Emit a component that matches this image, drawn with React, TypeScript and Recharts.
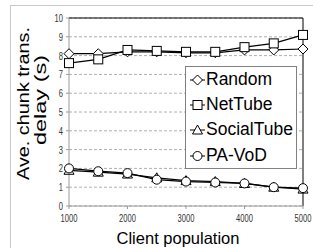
import {
  CartesianGrid,
  Line,
  LineChart,
  ReferenceLine,
  XAxis,
  YAxis,
} from "recharts";

const clientPopulation = [1000, 1500, 2000, 2500, 3000, 3500, 4000, 4500, 5000];
const randomDelay = [8.1, 8.1, 8.2, 8.2, 8.15, 8.15, 8.3, 8.3, 8.35];
const netTubeDelay = [7.6, 7.8, 8.3, 8.25, 8.2, 8.2, 8.45, 8.65, 9.1];
const socialTubeDelay = [1.9, 1.8, 1.7, 1.5, 1.35, 1.3, 1.2, 1.0, 0.9];
const paVodDelay = [2.0, 1.85, 1.75, 1.4, 1.3, 1.25, 1.2, 1.0, 0.95];
const yTicks = [0, 1, 2, 3, 4, 5, 6, 7, 8, 9, 10];
const xTicks = [1000, 2000, 3000, 4000, 5000];

const FONT = "Arial, 'Liberation Sans', sans-serif";
const LINE_COLOR = "#000000";
const AXIS_COLOR = "#9a9a9a";
const GRID_COLOR = "#b0b0b0";
const TICK_COLOR = "#333333";

type MarkerKind = "diamond" | "square" | "triangle" | "circle";

const seriesList: { key: string; name: string; marker: MarkerKind }[] = [
  { key: "random", name: "Random", marker: "diamond" },
  { key: "netTube", name: "NetTube", marker: "square" },
  { key: "socialTube", name: "SocialTube", marker: "triangle" },
  { key: "paVod", name: "PA-VoD", marker: "circle" },
];

const chartData = clientPopulation.map((population, index) => ({
  population,
  random: randomDelay[index],
  netTube: netTubeDelay[index],
  socialTube: socialTubeDelay[index],
  paVod: paVodDelay[index],
}));

function Marker({ kind, cx, cy }: { kind: MarkerKind; cx: number; cy: number }) {
  const common = { fill: "#ffffff", stroke: LINE_COLOR, strokeWidth: 1 };
  if (kind === "diamond") {
    return (
      <polygon
        {...common}
        points={`${cx},${cy - 5} ${cx + 5},${cy} ${cx},${cy + 5} ${cx - 5},${cy}`}
      />
    );
  }
  if (kind === "square") {
    return <rect {...common} x={cx - 4.5} y={cy - 4.5} width={9} height={9} />;
  }
  if (kind === "triangle") {
    return (
      <polygon
        {...common}
        points={`${cx},${cy - 5} ${cx + 5},${cy + 4} ${cx - 5},${cy + 4}`}
      />
    );
  }
  return <circle {...common} cx={cx} cy={cy} r={4.5} />;
}

function renderDot(kind: MarkerKind) {
  return (props: any) => {
    const cx = Number(props?.cx ?? 0);
    const cy = Number(props?.cy ?? 0);
    return <Marker key={`${kind}-${props?.index}`} kind={kind} cx={cx} cy={cy} />;
  };
}

// narrow tick text, like the squeezed digits of the original figure
function NarrowTick(props: any) {
  const label = String(props?.payload?.value ?? "");
  const isX = props?.orientation === "bottom";
  const x = Number(props?.x ?? 0);
  const y = Number(props?.y ?? 0);
  return (
    <text
      x={isX ? x : x - 1}
      y={isX ? y + 3 : y}
      dy={isX ? "0.71em" : "0.355em"}
      textAnchor={isX ? "middle" : "end"}
      fontFamily={FONT}
      fontSize={11}
      fill={TICK_COLOR}
      textLength={label.length * 4.2}
      lengthAdjust="spacingAndGlyphs"
    >
      {label}
    </text>
  );
}

function LegendBox() {
  return (
    <div
      style={{
        position: "absolute",
        left: 185,
        top: 66,
        width: 112,
        height: 103,
        border: "1px solid #808080",
        background: "#ffffff",
        boxSizing: "border-box",
      }}
    >
      {seriesList.map((series) => (
        <div
          key={series.key}
          style={{ display: "flex", alignItems: "center", height: 25.3 }}
        >
          <svg width={17} height={16} style={{ marginLeft: 3, flexShrink: 0 }}>
            <line x1={1} y1={8} x2={16} y2={8} stroke={LINE_COLOR} strokeWidth={1} />
            <Marker kind={series.marker} cx={8.5} cy={8} />
          </svg>
          <span style={{ fontFamily: FONT, fontSize: 17.5, color: "#000", lineHeight: 1 }}>
            {series.name}
          </span>
        </div>
      ))}
    </div>
  );
}

function YAxisTitle() {
  return (
    <g>
      <text
        x={23}
        y={103.5}
        transform="rotate(-90, 23, 103.5)"
        textAnchor="middle"
        dominantBaseline="central"
        fontFamily={FONT}
        fontSize={17}
        fill="#000"
        textLength={153}
        lengthAdjust="spacingAndGlyphs"
      >
        Ave. chunk trans.
      </text>
      <text
        x={40}
        y={100}
        transform="rotate(-90, 40, 100)"
        textAnchor="middle"
        dominantBaseline="central"
        fontFamily={FONT}
        fontSize={17}
        fill="#000"
        textLength={90}
        lengthAdjust="spacingAndGlyphs"
      >
        delay (s)
      </text>
    </g>
  );
}

function XAxisTitle() {
  return (
    <text
      x={178}
      y={244}
      textAnchor="middle"
      fontFamily={FONT}
      fontSize={16.5}
      fill="#000"
    >
      Client population
    </text>
  );
}

export default function App() {
  return (
    <div
      style={{
        position: "absolute",
        left: 0,
        top: 0,
        width: 313,
        height: 248,
        background: "#ffffff",
        overflow: "hidden",
      }}
    >
      <div
        style={{
          position: "absolute",
          left: 10,
          top: 5,
          width: 310,
          height: 260,
          border: "1px solid #c8c8c8",
          boxSizing: "border-box",
        }}
      />
      <LineChart
        width={313}
        height={248}
        data={chartData}
        margin={{ top: 18, right: 10, left: 0, bottom: 0 }}
        style={{ position: "absolute", left: 0, top: 0 }}
      >
        <CartesianGrid
          horizontal
          vertical={false}
          stroke={GRID_COLOR}
          strokeDasharray="3 2"
        />
        <XAxis
          dataKey="population"
          type="number"
          domain={[1000, 5000]}
          ticks={xTicks}
          height={42}
          interval={0}
          stroke={AXIS_COLOR}
          tickSize={3}
          tick={<NarrowTick />}
          label={<XAxisTitle />}
        />
        <YAxis
          domain={[0, 10]}
          ticks={yTicks}
          width={69}
          interval={0}
          stroke={AXIS_COLOR}
          tickSize={3}
          tick={<NarrowTick />}
          label={<YAxisTitle />}
        />
        <ReferenceLine y={10} stroke={LINE_COLOR} strokeWidth={1} />
        <ReferenceLine x={5000} stroke={LINE_COLOR} strokeWidth={1} />
        {seriesList.map((series) => (
          <Line
            key={series.key}
            type="linear"
            dataKey={series.key}
            name={series.name}
            stroke={LINE_COLOR}
            strokeWidth={1.2}
            dot={renderDot(series.marker)}
            activeDot={false}
            isAnimationActive={false}
          />
        ))}
      </LineChart>
      <LegendBox />
    </div>
  );
}
